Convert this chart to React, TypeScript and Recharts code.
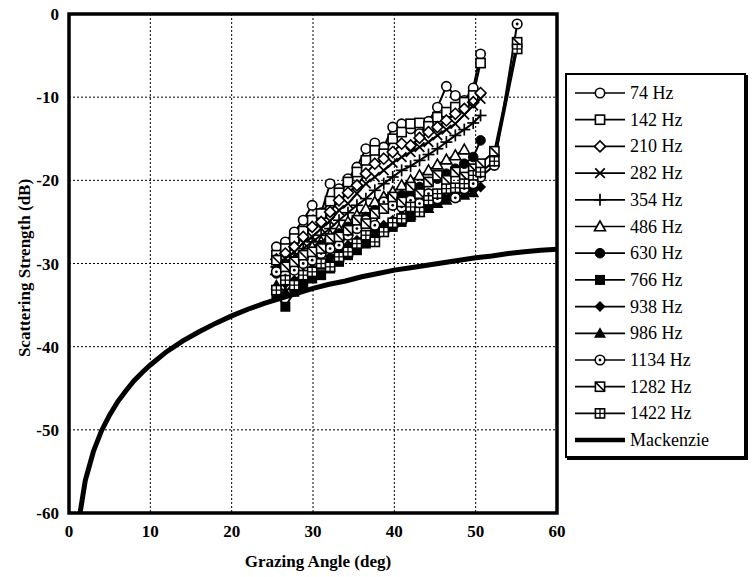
import React from 'react';
import { LineChart, Line, XAxis, YAxis, CartesianGrid, ReferenceArea } from 'recharts';

const FONT = '"Liberation Serif", "Times New Roman", serif';

// Grazing angles (deg) shared by the measured series
const ANGLES = [25.5, 26.6, 27.7, 28.8, 29.9, 31.0, 32.1, 33.2, 34.3, 35.4, 36.5, 37.6, 38.7, 39.8, 40.9, 42.0, 43.1, 44.2, 45.3, 46.4, 47.5, 48.6, 49.7, 50.6];
const TAIL_ANGLES = [52.3, 55.1];

const V74 = [-28.0, -27.4, -26.2, -24.8, -23.0, -23.9, -20.4, -21.0, -19.8, -18.4, -16.2, -15.5, -16.0, -13.6, -13.2, -13.8, -14.4, -12.9, -11.2, -8.7, -9.8, -10.4, -8.9, -4.8];
const V142 = [-29.0, -28.2, -27.0, -26.1, -24.8, -24.0, -22.5, -21.5, -20.2, -19.0, -17.6, -16.4, -16.8, -15.0, -14.2, -13.2, -13.1, -13.5, -12.4, -11.8, -11.2, -10.6, -9.8, -5.9];
const V210 = [-29.5, -28.8, -28.0, -26.8, -25.6, -25.0, -23.8, -22.4, -21.5, -20.6, -19.2, -18.0, -17.4, -16.6, -15.6, -15.8, -14.9, -14.2, -13.6, -12.8, -12.0, -11.4, -10.6, -9.5];
const V282 = [-30.0, -29.4, -28.6, -27.5, -26.8, -25.8, -24.9, -23.6, -22.8, -21.6, -20.4, -19.6, -18.8, -17.9, -17.2, -16.6, -16.0, -15.4, -14.6, -13.9, -13.2, -12.1, -11.0, -10.2];
const V354 = [-30.4, -29.8, -29.2, -28.2, -27.4, -26.6, -25.8, -24.8, -23.9, -23.0, -22.2, -21.2, -20.4, -19.6, -18.8, -18.3, -17.6, -16.9, -16.2, -15.4, -14.6, -13.9, -13.1, -12.2];
const V486 = [-30.8, -30.2, -29.6, -28.8, -28.0, -27.4, -26.6, -25.9, -25.0, -24.2, -23.4, -22.6, -22.0, -21.4, -20.6, -20.0, -19.4, -18.8, -18.1, -17.5, -17.0, -16.3, null, null];
const V630 = [-31.2, -30.6, -29.8, -29.4, -28.6, -27.8, -27.2, -26.4, -25.6, -25.0, -24.4, -23.6, -23.0, -22.4, -21.8, -21.5, -20.8, -20.2, -19.8, -19.2, -18.6, -18.0, -17.2, -15.2];
const V766 = [-33.8, -35.2, -33.4, -32.6, -31.8, -31.4, -30.6, -29.8, -29.0, -28.4, -27.6, -27.0, -26.2, -25.6, -25.0, -24.4, -23.6, -23.0, -22.4, -21.8, -21.2, -20.6, -20.0, -18.4];
const V938 = [-33.0, -32.4, -32.0, -31.2, -30.6, -30.0, -29.2, -28.6, -27.8, -27.2, -26.6, -26.0, -25.4, -24.8, -24.2, -23.8, -23.2, -22.8, -22.4, -22.0, -21.6, -21.4, -21.2, -20.8];
const V986 = [-32.6, -33.4, -32.4, -31.6, -31.0, -30.2, -29.6, -29.0, -28.2, -27.6, -27.0, -26.4, -25.8, -25.2, -24.6, -24.2, -23.8, -23.4, -22.8, -22.4, -22.0, -21.8, -21.5, null];
const V1134 = [-31.0, -31.4, -30.8, -30.0, -29.6, -28.8, -28.2, -27.8, -26.6, -25.8, -24.8, -25.4, -22.6, -23.0, -23.2, -22.4, -22.8, -21.6, -22.2, -21.2, -22.1, -21.0, -20.4, -19.6];
const V1282 = [-29.6, -30.4, -29.8, -29.0, -28.6, -28.2, -27.0, -26.8, -26.0, -24.8, -25.2, -24.0, -23.4, -22.0, -22.6, -20.8, -21.6, -20.2, -19.4, -20.0, -19.0, -19.6, -18.6, -18.0];
const V1422 = [-33.2, -32.0, -32.6, -31.4, -31.0, -30.0, -30.4, -29.2, -28.6, -27.6, -26.6, -27.4, -26.2, -25.1, -24.6, -23.2, -23.8, -22.4, -21.6, -21.0, -20.9, -20.4, -19.4, -19.0];
const T1134 = [-18.2, -1.2];
const T1282 = [-16.5, -3.4];
const T1422 = [-17.7, -4.2];

const MACK_ANGLES = [1, 2, 3, 4, 5, 6, 7, 8, 9, 10, 12, 14, 16, 18, 20, 22, 24, 26, 28, 30, 32, 34, 36, 38, 40, 42, 44, 46, 48, 50, 52, 54, 56, 58, 60];
const MACK_VALUES = [-62.2, -56.1, -52.6, -50.1, -48.2, -46.6, -45.3, -44.1, -43.1, -42.2, -40.6, -39.3, -38.2, -37.2, -36.3, -35.5, -34.8, -34.2, -33.6, -33.0, -32.5, -32.1, -31.6, -31.2, -30.8, -30.5, -30.2, -29.9, -29.6, -29.3, -29.1, -28.8, -28.6, -28.4, -28.3];

const X_TICKS = [0, 10, 20, 30, 40, 50, 60];
const Y_TICKS = [-60, -50, -40, -30, -20, -10, 0];

type Kind = 'circle' | 'square' | 'diamond' | 'x' | 'plus' | 'triangle' | 'fcircle' | 'fsquare' | 'fdiamond' | 'ftriangle' | 'circledot' | 'slash' | 'grid';

const SERIES: { name: string; kind: Kind; values: (number | null)[]; tail?: number[] }[] = [
  { name: '74 Hz', kind: 'circle', values: V74 },
  { name: '142 Hz', kind: 'square', values: V142 },
  { name: '210 Hz', kind: 'diamond', values: V210 },
  { name: '282 Hz', kind: 'x', values: V282 },
  { name: '354 Hz', kind: 'plus', values: V354 },
  { name: '486 Hz', kind: 'triangle', values: V486 },
  { name: '630 Hz', kind: 'fcircle', values: V630 },
  { name: '766 Hz', kind: 'fsquare', values: V766 },
  { name: '938 Hz', kind: 'fdiamond', values: V938 },
  { name: '986 Hz', kind: 'ftriangle', values: V986 },
  { name: '1134 Hz', kind: 'circledot', values: V1134, tail: T1134 },
  { name: '1282 Hz', kind: 'slash', values: V1282, tail: T1282 },
  { name: '1422 Hz', kind: 'grid', values: V1422, tail: T1422 },
];

function Marker({ kind, cx, cy }: { kind: Kind; cx: number; cy: number }) {
  if (cx == null || cy == null || isNaN(cx) || isNaN(cy)) return <g />;
  const sw = 1.6;
  const s = 4.6;
  switch (kind) {
    case 'circle':
      return <circle cx={cx} cy={cy} r={4.7} fill="#fff" stroke="#000" strokeWidth={sw} />;
    case 'circledot':
      return (
        <g>
          <circle cx={cx} cy={cy} r={4.8} fill="#fff" stroke="#000" strokeWidth={sw} />
          <circle cx={cx} cy={cy} r={1.4} fill="#000" />
        </g>
      );
    case 'fcircle':
      return <circle cx={cx} cy={cy} r={4.8} fill="#000" stroke="#000" strokeWidth={1} />;
    case 'square':
      return <rect x={cx - s} y={cy - s} width={2 * s} height={2 * s} fill="#fff" stroke="#000" strokeWidth={sw} />;
    case 'fsquare':
      return <rect x={cx - 5} y={cy - 5} width={10} height={10} fill="#000" />;
    case 'slash':
      return (
        <g>
          <rect x={cx - s} y={cy - s} width={2 * s} height={2 * s} fill="#fff" stroke="#000" strokeWidth={sw} />
          <line x1={cx - s} y1={cy - s} x2={cx + s} y2={cy + s} stroke="#000" strokeWidth={sw} />
        </g>
      );
    case 'grid':
      return (
        <g>
          <rect x={cx - s} y={cy - s} width={2 * s} height={2 * s} fill="#fff" stroke="#000" strokeWidth={sw} />
          <line x1={cx - s} y1={cy} x2={cx + s} y2={cy} stroke="#000" strokeWidth={1.3} />
          <line x1={cx} y1={cy - s} x2={cx} y2={cy + s} stroke="#000" strokeWidth={1.3} />
        </g>
      );
    case 'diamond':
      return <polygon points={`${cx},${cy - 5.5} ${cx + 5.5},${cy} ${cx},${cy + 5.5} ${cx - 5.5},${cy}`} fill="#fff" stroke="#000" strokeWidth={sw} />;
    case 'fdiamond':
      return <polygon points={`${cx},${cy - 5.5} ${cx + 5.5},${cy} ${cx},${cy + 5.5} ${cx - 5.5},${cy}`} fill="#000" />;
    case 'triangle':
      return <polygon points={`${cx},${cy - 5.5} ${cx + 5.5},${cy + 4.3} ${cx - 5.5},${cy + 4.3}`} fill="#fff" stroke="#000" strokeWidth={sw} />;
    case 'ftriangle':
      return <polygon points={`${cx},${cy - 6} ${cx + 6},${cy + 4.5} ${cx - 6},${cy + 4.5}`} fill="#000" />;
    case 'x':
      return (
        <g stroke="#000" strokeWidth={1.7}>
          <line x1={cx - 4.8} y1={cy - 4.8} x2={cx + 4.8} y2={cy + 4.8} />
          <line x1={cx - 4.8} y1={cy + 4.8} x2={cx + 4.8} y2={cy - 4.8} />
        </g>
      );
    case 'plus':
      return (
        <g stroke="#000" strokeWidth={1.7}>
          <line x1={cx - 6} y1={cy} x2={cx + 6} y2={cy} />
          <line x1={cx} y1={cy - 6} x2={cx} y2={cy + 6} />
        </g>
      );
  }
  return <g />;
}

function buildData(values: (number | null)[], tail?: number[]) {
  const pts: { x: number; y: number }[] = [];
  ANGLES.forEach((a, i) => {
    const v = values[i];
    if (v != null) pts.push({ x: a, y: v });
  });
  if (tail) TAIL_ANGLES.forEach((a, i) => pts.push({ x: a, y: tail[i] }));
  return pts;
}

const MACK_DATA = MACK_ANGLES.map((a, i) => ({ x: a, y: MACK_VALUES[i] }));

const ROW_H = 26.7;

function LegendBox() {
  const rows = [...SERIES.map((s) => ({ name: s.name, kind: s.kind as Kind | null })), { name: 'Mackenzie', kind: null as Kind | null }];
  return (
    <div
      style={{
        position: 'absolute',
        left: 565,
        top: 73,
        width: 181,
        height: 385,
        border: '2px solid #000',
        boxShadow: '2px 2px 0 #000',
        background: '#fff',
        boxSizing: 'border-box',
      }}
    >
      <svg width={177} height={381} style={{ position: 'absolute', left: 0, top: 0 }}>
        {rows.map((r, i) => {
          const cy = 18 + i * ROW_H;
          return (
            <g key={r.name}>
              <line x1={8} y1={cy} x2={58} y2={cy} stroke="#000" strokeWidth={r.kind ? 1.7 : 4.5} />
              {r.kind && <Marker kind={r.kind} cx={33} cy={cy} />}
              <text x={63} y={cy} dominantBaseline="central" fontFamily={FONT} fontSize={18} fill="#000">
                {r.name}
              </text>
            </g>
          );
        })}
      </svg>
    </div>
  );
}

export default function App() {
  return (
    <div style={{ position: 'absolute', left: 0, top: 0, width: 753, height: 577, background: '#fff' }}>
      <LineChart width={753} height={577} margin={{ top: 14, right: 196, bottom: 34, left: 9 }}>
        <CartesianGrid stroke="#000" strokeDasharray="2 2" strokeWidth={1} />
        <XAxis
          type="number"
          dataKey="x"
          domain={[0, 60]}
          ticks={X_TICKS}
          allowDataOverflow
          height={30}
          tickLine={false}
          axisLine={false}
          tickMargin={6}
          tick={{ fill: '#000', fontFamily: FONT, fontSize: 17, fontWeight: 'bold' }}
          label={{
            content: () => (
              <text x={318} y={561} textAnchor="middle" dominantBaseline="central" fontFamily={FONT} fontSize={17} fontWeight="bold" fill="#000">
                Grazing Angle (deg)
              </text>
            ),
          }}
        />
        <YAxis
          type="number"
          dataKey="y"
          domain={[-60, 0]}
          ticks={Y_TICKS}
          allowDataOverflow
          width={60}
          tickLine={false}
          axisLine={false}
          tickMargin={4}
          tick={{ fill: '#000', fontFamily: FONT, fontSize: 17, fontWeight: 'bold' }}
          label={{
            content: () => (
              <text x={24} y={268} transform="rotate(-90 24 268)" textAnchor="middle" dominantBaseline="central" fontFamily={FONT} fontSize={17} fontWeight="bold" fill="#000">
                Scattering Strength (dB)
              </text>
            ),
          }}
        />
        <Line
          data={MACK_DATA}
          dataKey="y"
          name="Mackenzie"
          stroke="#000"
          strokeWidth={5}
          dot={false}
          activeDot={false}
          isAnimationActive={false}
          type="linear"
        />
        {SERIES.map((s) => (
          <Line
            key={s.name}
            data={buildData(s.values, s.tail)}
            dataKey="y"
            name={s.name}
            stroke="#000"
            strokeWidth={2}
            type="linear"
            activeDot={false}
            isAnimationActive={false}
            dot={(p: any) => <Marker key={`${s.name}-${p.index}`} kind={s.kind} cx={p.cx} cy={p.cy} />}
          />
        ))}
        <ReferenceArea x1={0} x2={60} y1={-60} y2={0} fill="none" stroke="#000" strokeWidth={3.5} ifOverflow="visible" />
      </LineChart>
      <LegendBox />
    </div>
  );
}
